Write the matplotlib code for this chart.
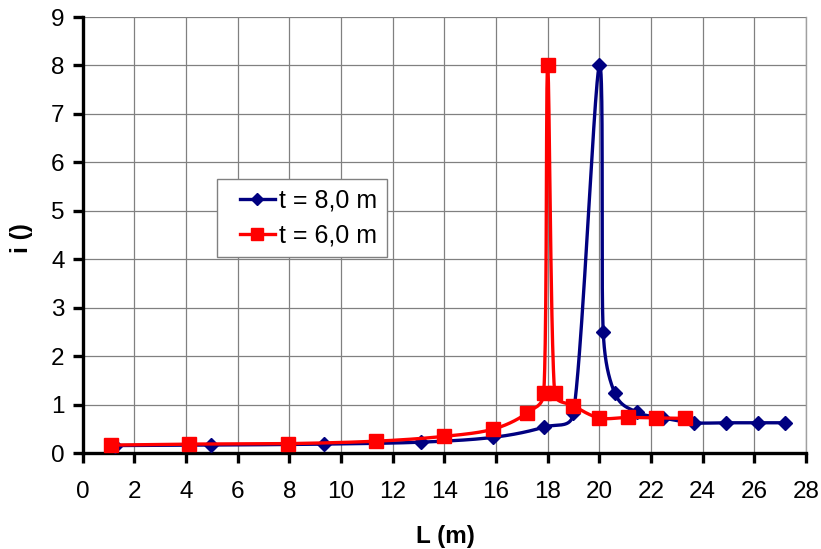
import numpy as np
import matplotlib.pyplot as plt
from matplotlib.legend_handler import HandlerLine2D

# data
L_t8 = [1.25, 4.95, 9.35, 13.1, 15.9, 17.85, 19.0, 20.0, 20.15, 20.6, 21.45, 22.45, 23.65, 24.9, 26.15, 27.2]
i_t8 = [0.16, 0.17, 0.19, 0.23, 0.33, 0.54, 0.83, 8.0, 2.51, 1.24, 0.85, 0.73, 0.63, 0.63, 0.63, 0.63]

L_t6 = [1.1, 4.1, 7.95, 11.35, 14.0, 15.9, 17.2, 17.85, 18.0, 18.27, 19.0, 20.0, 21.1, 22.2, 23.3]
i_t6 = [0.17, 0.19, 0.2, 0.25, 0.35, 0.5, 0.83, 1.25, 8.0, 1.25, 0.98, 0.73, 0.74, 0.73, 0.72]

labels = ['t = 8,0 m', 't = 6,0 m']
colors = ['#000080', '#ff0000']


# spreadsheet-style smoothed line (bezier, control points limited by segment length)
def smooth(ax, x, y, n=40):
    fig_w, fig_h = ax.figure.get_size_inches() * ax.figure.dpi
    pos = ax.get_position()
    x0, x1 = ax.get_xlim()
    y0, y1 = ax.get_ylim()
    sx = pos.width * fig_w / (x1 - x0)
    sy = pos.height * fig_h / (y1 - y0)
    p = np.column_stack([np.asarray(x) * sx, np.asarray(y) * sy]).astype(float)
    out = [p[0]]
    t = np.linspace(0, 1, n)[1:, None]
    for k in range(len(p) - 1):
        p0 = p[k - 1] if k > 0 else p[k]
        p3 = p[k + 2] if k + 2 < len(p) else p[k + 1]
        d12 = np.hypot(*(p[k + 1] - p[k]))
        d02 = np.hypot(*(p[k + 1] - p0))
        d13 = np.hypot(*(p3 - p[k]))
        f1 = 1 / 6 if d02 / 6 < d12 / 2 else d12 / (2 * d02)
        f2 = 1 / 6 if d13 / 6 < d12 / 2 else d12 / (2 * d13)
        c1 = p[k] + (p[k + 1] - p0) * f1
        c2 = p[k + 1] - (p3 - p[k]) * f2
        seg = ((1 - t) ** 3) * p[k] + 3 * ((1 - t) ** 2) * t * c1 + 3 * (1 - t) * t ** 2 * c2 + t ** 3 * p[k + 1]
        out.extend(seg)
    out = np.array(out)
    return out[:, 0] / sx, out[:, 1] / sy


plt.rcParams['font.family'] = ['Liberation Sans', 'DejaVu Sans']

fig = plt.figure(figsize=(8.21, 5.49), dpi=100)
ax = fig.add_axes([0.1007, 0.1743, 0.881, 0.7947])
ax.set_xlim(0, 28)
ax.set_ylim(0, 9)

lx, ly = smooth(ax, L_t8, i_t8)
ax.plot(lx, ly, color=colors[0], lw=2.4, zorder=3)
ax.plot(L_t8, i_t8, ls='none', marker='D', ms=7, color=colors[0], zorder=4)

lx, ly = smooth(ax, L_t6, i_t6)
ax.plot(lx, ly, color=colors[1], lw=2.4, zorder=5)
ax.plot(L_t6, i_t6, ls='none', marker='s', ms=10, color=colors[1], zorder=6)

# legend handles (line + marker)
h1, = ax.plot([], [], color=colors[0], lw=2.4, marker='D', ms=6)
h2, = ax.plot([], [], color=colors[1], lw=2.4, marker='s', ms=8)
leg = ax.legend([h1, h2], labels, loc='upper left', bbox_to_anchor=(0.186, 0.629),
                borderaxespad=0, fontsize=18, fancybox=False, handlelength=1.9,
                handletextpad=0.16, labelspacing=0.42, borderpad=0.4, framealpha=1,
                handler_map={h1: HandlerLine2D(xpad=0.5), h2: HandlerLine2D(xpad=0.5)})
leg.get_frame().set_edgecolor('#808080')
leg.get_frame().set_linewidth(1)

ax.set_xticks(range(0, 29, 2))
ax.set_yticks(range(0, 10))
ax.grid(True, color='#808080', lw=0.9)
ax.set_axisbelow(True)

for s in ['left', 'bottom']:
    ax.spines[s].set_linewidth(2.4)
    ax.spines[s].set_color('black')
ax.spines['top'].set_visible(False)
ax.spines['right'].set_color('#a0a0a0')
ax.spines['right'].set_linewidth(1)

ax.tick_params(axis='both', direction='out', length=7, width=2.4, labelsize=17.5)
ax.tick_params(axis='x', pad=13)
ax.tick_params(axis='y', pad=6)

ax.set_xlabel('L (m)', fontsize=17.5, fontweight='bold')
ax.set_ylabel('i ()', fontsize=17.5, fontweight='bold')
ax.xaxis.set_label_coords(0.501, -0.164)
ax.yaxis.set_label_coords(-0.069, 0.493)

fig.savefig('out.png', dpi=100)
